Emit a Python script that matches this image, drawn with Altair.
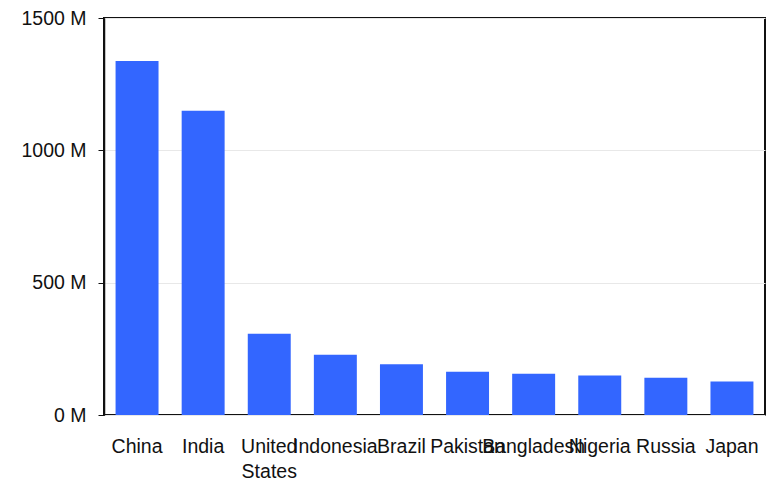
import altair as alt
import pandas as pd

countries = ["China", "India", "United States", "Indonesia", "Brazil", "Pakistan",
             "Bangladesh", "Nigeria", "Russia", "Japan"]
population_m = [1338, 1150, 307, 228, 192, 163, 156, 149, 141, 127]
y_ticks = [0, 500, 1000, 1500]

df = pd.DataFrame({"country": countries, "pop": population_m})

font = "Liberation Sans"

chart = alt.Chart(df).mark_bar(color="#3366ff").encode(
    x=alt.X("country:N", sort=countries,
            scale=alt.Scale(paddingInner=0.35, paddingOuter=0.175),
            axis=alt.Axis(title=None, labelAngle=0, ticks=False, domain=False,
                          labelPadding=22, labelFont=font, labelFontSize=19.5,
                          labelColor="#111", labelLineHeight=25,
                          labelOverlap=False, labelBound=False, labelLimit=0,
                          labelExpr="split(datum.label, ' ')")),
    y=alt.Y("pop:Q", scale=alt.Scale(domain=[0, 1500], nice=False),
            axis=alt.Axis(title=None, values=y_ticks, tickSize=6, tickColor="#111",
                          domainColor="#111", domainWidth=1.5,
                          labelExpr="datum.value + ' M'", labelPadding=12,
                          labelFont=font, labelFontSize=19.5, labelColor="#111",
                          gridColor="#e8e8e8", gridWidth=1)),
).properties(
    width=661, height=397,
    autosize=alt.AutoSizeParams(type="none"),
    padding={"left": 104, "top": 18, "right": 9, "bottom": 74},
).configure_view(stroke="#111", strokeWidth=2)

chart.save("out.html", embed_options={"renderer": "svg", "actions": False})
